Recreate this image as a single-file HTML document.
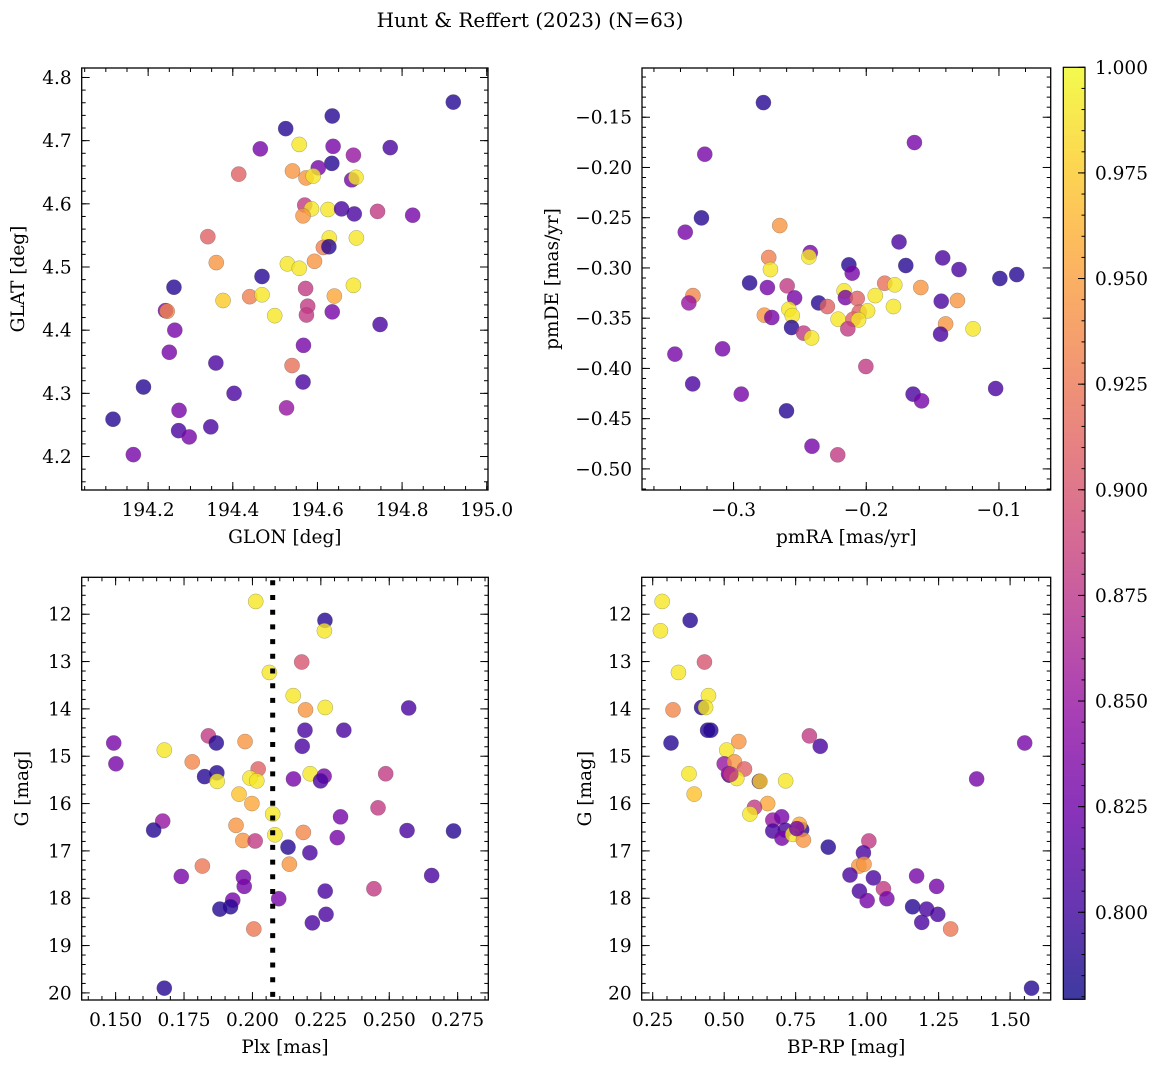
<!DOCTYPE html>
<html><head><meta charset="utf-8">
<style>
html,body{margin:0;padding:0;background:#fff;}
svg{display:block;font-family:"DejaVu Serif","Liberation Serif",serif;}
</style></head>
<body>
<svg id="fig" width="1160" height="1067" viewBox="0 0 1160 1067" xmlns="http://www.w3.org/2000/svg">
<defs>
<linearGradient id="cbgrad" x1="0" y1="1" x2="0" y2="0">
<stop offset="0" stop-color="#0d0887"/><stop offset="0.1" stop-color="#41049d"/><stop offset="0.2" stop-color="#6a00a8"/><stop offset="0.3" stop-color="#8f0da4"/><stop offset="0.4" stop-color="#b12a90"/><stop offset="0.5" stop-color="#cc4778"/><stop offset="0.6" stop-color="#e16462"/><stop offset="0.7" stop-color="#f2844b"/><stop offset="0.8" stop-color="#fca636"/><stop offset="0.9" stop-color="#fcce25"/><stop offset="1" stop-color="#f0f921"/>
</linearGradient>
</defs>
<text x="530" y="27" font-size="20" text-anchor="middle">Hunt &amp; Reffert (2023) (N=63)</text>
</svg>
<script>
// ---- data ----
const tlGlon=[194.921,194.635,194.525,194.557,194.465,194.637,194.772,194.685,194.634,194.602,194.414,194.541,194.573,194.590,194.681,194.691,194.570,194.586,194.566,194.625,194.657,194.687,194.742,194.825,194.341,194.628,194.692,194.614,194.627,194.361,194.529,194.557,194.593,194.469,194.261,194.572,194.685,194.377,194.440,194.469,194.640,194.577,194.574,194.499,194.635,194.241,194.245,194.748,194.263,194.567,194.250,194.360,194.540,194.189,194.566,194.403,194.527,194.273,194.117,194.272,194.348,194.297,194.165];
const tlGlat=[4.761,4.739,4.719,4.694,4.687,4.691,4.689,4.677,4.664,4.657,4.647,4.652,4.641,4.644,4.638,4.642,4.598,4.592,4.581,4.591,4.592,4.584,4.588,4.582,4.548,4.546,4.546,4.531,4.532,4.507,4.505,4.498,4.509,4.485,4.468,4.466,4.471,4.447,4.453,4.456,4.454,4.438,4.424,4.423,4.429,4.431,4.430,4.409,4.400,4.376,4.365,4.348,4.344,4.310,4.318,4.300,4.277,4.273,4.259,4.241,4.247,4.231,4.203];
const tlProb=[0.79,0.79,0.79,0.99,0.83,0.83,0.805,0.85,0.79,0.83,0.91,0.945,0.945,0.99,0.83,0.99,0.88,0.99,0.945,0.99,0.805,0.805,0.88,0.83,0.91,0.99,0.99,0.93,0.79,0.945,0.99,0.99,0.945,0.79,0.79,0.88,0.99,0.975,0.93,0.99,0.955,0.88,0.88,0.99,0.83,0.83,0.935,0.805,0.83,0.83,0.83,0.805,0.92,0.79,0.805,0.805,0.85,0.83,0.79,0.805,0.805,0.83,0.83];
const trPmra=[-0.2775,-0.1637,-0.3217,-0.3242,-0.3364,-0.2652,-0.1753,-0.2422,-0.2432,-0.2735,-0.1424,-0.2131,-0.1702,-0.2722,-0.2106,-0.1301,-0.0866,-0.0993,-0.2879,-0.2745,-0.2596,-0.1861,-0.1785,-0.1589,-0.3306,-0.3337,-0.2540,-0.2167,-0.2157,-0.2068,-0.1932,-0.2359,-0.2293,-0.1435,-0.1313,-0.1795,-0.2583,-0.2053,-0.1990,-0.2768,-0.2712,-0.2558,-0.2212,-0.2099,-0.2058,-0.2563,-0.2139,-0.1402,-0.1440,-0.1195,-0.2472,-0.2412,-0.3442,-0.3083,-0.2003,-0.3308,-0.1025,-0.2942,-0.1647,-0.1583,-0.2601,-0.2409,-0.2215];
const trPmde=[-0.1354,-0.1752,-0.1868,-0.2502,-0.2644,-0.2578,-0.2741,-0.2847,-0.2890,-0.2896,-0.2900,-0.2969,-0.2976,-0.3016,-0.3052,-0.3016,-0.3066,-0.3105,-0.3149,-0.3195,-0.3178,-0.3152,-0.3168,-0.3195,-0.3275,-0.3348,-0.3298,-0.3228,-0.3295,-0.3304,-0.3275,-0.3348,-0.3384,-0.3331,-0.3324,-0.3384,-0.3411,-0.3440,-0.3427,-0.3470,-0.3493,-0.3474,-0.3510,-0.3510,-0.3517,-0.3593,-0.3606,-0.3557,-0.3659,-0.3606,-0.3649,-0.3696,-0.3858,-0.3805,-0.3981,-0.4154,-0.4200,-0.4256,-0.4256,-0.4323,-0.4422,-0.4774,-0.4860];
const trProb=[0.79,0.83,0.83,0.79,0.83,0.945,0.805,0.83,0.99,0.93,0.805,0.79,0.79,0.99,0.83,0.805,0.79,0.79,0.79,0.83,0.88,0.92,0.99,0.945,0.935,0.85,0.83,0.99,0.83,0.91,0.99,0.79,0.91,0.805,0.945,0.99,0.99,0.91,0.99,0.945,0.83,0.99,0.99,0.91,0.99,0.79,0.88,0.945,0.805,0.99,0.88,0.99,0.83,0.83,0.88,0.805,0.805,0.83,0.805,0.83,0.79,0.83,0.88];
const blPlx=[0.2012,0.2265,0.2263,0.2180,0.2062,0.2149,0.2194,0.2266,0.2571,0.2192,0.2334,0.1493,0.1839,0.1868,0.1973,0.2182,0.1678,0.1501,0.1780,0.2021,0.1870,0.1825,0.1871,0.1991,0.2016,0.2150,0.2211,0.2262,0.2249,0.2487,0.1951,0.1998,0.2459,0.2074,0.2322,0.1672,0.1639,0.1940,0.2186,0.2082,0.2565,0.2735,0.1965,0.2010,0.2310,0.2130,0.2210,0.2135,0.1817,0.1740,0.1967,0.1970,0.2655,0.2444,0.2266,0.2096,0.1928,0.1920,0.1881,0.2269,0.2219,0.2005,0.1678];
const blG=[11.73,12.13,12.35,13.01,13.23,13.72,14.02,13.97,13.98,14.45,14.45,14.72,14.57,14.72,14.69,14.79,14.87,15.16,15.12,15.27,15.35,15.43,15.53,15.46,15.52,15.48,15.37,15.42,15.52,15.37,15.80,16.00,16.09,16.22,16.28,16.37,16.56,16.46,16.61,16.66,16.57,16.58,16.78,16.79,16.72,16.92,17.04,17.28,17.32,17.54,17.56,17.75,17.52,17.80,17.85,18.01,18.04,18.18,18.23,18.34,18.52,18.65,19.90];
const blProb=[0.99,0.79,0.99,0.9,0.99,0.99,0.945,0.99,0.805,0.805,0.805,0.83,0.88,0.79,0.945,0.805,0.99,0.83,0.935,0.91,0.79,0.79,0.99,0.99,0.99,0.83,0.99,0.83,0.805,0.88,0.97,0.955,0.88,0.99,0.83,0.85,0.79,0.945,0.935,0.99,0.805,0.79,0.945,0.88,0.83,0.79,0.805,0.945,0.925,0.83,0.83,0.83,0.805,0.88,0.805,0.83,0.83,0.79,0.79,0.805,0.805,0.925,0.79];
const brBprp=[0.283,0.381,0.277,0.431,0.340,0.445,0.321,0.421,0.435,0.442,0.453,0.314,0.798,0.551,0.836,1.551,0.509,0.500,0.536,0.571,0.518,0.515,0.544,0.377,0.623,0.625,0.715,1.383,0.395,0.652,0.606,0.590,0.670,0.701,0.670,0.713,0.771,0.763,0.702,0.740,0.777,0.864,1.006,0.987,0.971,0.989,0.940,1.022,1.173,1.243,0.973,1.057,1.000,1.069,1.159,1.208,1.247,1.191,1.292,1.575,0.523,0.754];
const brG=[11.73,12.13,12.35,13.01,13.23,13.72,14.02,13.97,13.97,14.45,14.45,14.72,14.57,14.69,14.79,14.72,14.87,15.16,15.12,15.27,15.40,15.37,15.47,15.37,15.53,15.53,15.52,15.48,15.80,16.00,16.08,16.22,16.35,16.28,16.58,16.56,16.55,16.44,16.73,16.65,16.77,16.92,16.79,17.04,17.32,17.28,17.51,17.57,17.53,17.75,17.85,17.80,18.05,18.01,18.18,18.23,18.34,18.51,18.65,19.90,15.38,16.53];
const brProb=[0.99,0.79,0.99,0.9,0.99,0.99,0.935,0.79,0.99,0.79,0.79,0.79,0.88,0.945,0.805,0.83,0.99,0.85,0.945,0.91,0.79,0.85,0.99,0.99,0.79,0.975,0.99,0.83,0.97,0.955,0.88,0.99,0.85,0.83,0.805,0.805,0.79,0.955,0.83,0.99,0.945,0.79,0.88,0.805,0.945,0.945,0.805,0.805,0.83,0.83,0.805,0.88,0.83,0.83,0.79,0.805,0.805,0.805,0.925,0.79,0.88,0.83];
const cbTicks=[0.800,0.825,0.850,0.875,0.900,0.925,0.950,0.975,1.000];
const plxLine=[0.2074];
// ---- rendering ----
const NS="http://www.w3.org/2000/svg";
const svg=document.getElementById('fig');
const VMIN=0.7794,VMAX=1.0;
const stops=["#0d0887","#41049d","#6a00a8","#8f0da4","#b12a90","#cc4778","#e16462","#f2844b","#fca636","#fcce25","#f0f921"];
function hx(h){return [parseInt(h.slice(1,3),16),parseInt(h.slice(3,5),16),parseInt(h.slice(5,7),16)];}
function cmap(v){let t=(v-VMIN)/(VMAX-VMIN);t=Math.max(0,Math.min(1,t));const s=t*10;const i=Math.min(9,Math.floor(s));const f=s-i;const a=hx(stops[i]),b=hx(stops[i+1]);return 'rgb('+a.map((c,k)=>Math.round(c+(b[k]-c)*f)).join(',')+')';}
function el(tag,attrs,parent){const e=document.createElementNS(NS,tag);for(const k in attrs)e.setAttribute(k,attrs[k]);(parent||svg).appendChild(e);return e;}
function rng(a,b,s){const out=[];const n0=Math.ceil(a/s-1e-9),n1=Math.floor(b/s+1e-9);for(let n=n0;n<=n1;n++)out.push(n*s);return out;}
function fmt(v,d){const s=Math.abs(v).toFixed(d);return (v<-1e-12?'\u2212':'')+s;}
const FS=18.5;
function panel(name,p){
  const g=el('g',{});
  
  
  const X=v=>p.px[0]+(v-p.xr[0])/(p.xr[1]-p.xr[0])*(p.px[1]-p.px[0]);
  const Y=v=>p.py[0]+(v-p.yr[0])/(p.yr[1]-p.yr[0])*(p.py[1]-p.py[0]);
  const L=p.px[0],R=p.px[1],T=Math.min(p.py[0],p.py[1]),B=Math.max(p.py[0],p.py[1]);
  // points
  for(let i=0;i<p.xs.length;i++){
    const c=el('circle',{cx:X(p.xs[i]),cy:Y(p.ys[i]),r:7.6,fill:cmap(p.cs[i]),'fill-opacity':0.8,stroke:'#555','stroke-opacity':0.5,'stroke-width':0.5},g);
    
    
  }
  if(p.vline){for(const v of p.vline){const ln=el('line',{x1:X(v),x2:X(v),y1:T+3,y2:B,stroke:'#000','stroke-width':5,'stroke-dasharray':'5 9.7'},g);
    
    }}
  // ticks
  const tk=el('g',{stroke:'#000','stroke-width':1},g);
  for(const v of rng(p.xr[0],p.xr[1],p.xmin)){const x=X(v);el('line',{x1:x,x2:x,y1:B,y2:B-4},tk);el('line',{x1:x,x2:x,y1:T,y2:T+4},tk);}
  for(const v of rng(p.yr[0],p.yr[1],p.ymin)){const y=Y(v);el('line',{x1:L,x2:L+4,y1:y,y2:y},tk);el('line',{x1:R,x2:R-4,y1:y,y2:y},tk);}
  for(const v of rng(p.xr[0],p.xr[1],p.xmaj)){const x=X(v);el('line',{x1:x,x2:x,y1:B,y2:B-8},tk);el('line',{x1:x,x2:x,y1:T,y2:T+8},tk);
    const t=el('text',{x:x,y:B+26,'font-size':FS,'text-anchor':'middle'},g);t.textContent=fmt(v,p.xd);
    
    }
  for(const v of rng(p.yr[0],p.yr[1],p.ymaj)){const y=Y(v);el('line',{x1:L,x2:L+8,y1:y,y2:y},tk);el('line',{x1:R,x2:R-8,y1:y,y2:y},tk);
    const t=el('text',{x:L-10,y:y+6.5,'font-size':FS,'text-anchor':'end'},g);t.textContent=fmt(v,p.yd);
    
    }
  const fr=el('rect',{x:L,y:T,width:R-L,height:B-T,fill:'none',stroke:'#000','stroke-width':1.3},g);
  
  
  const xl=el('text',{x:(L+R)/2,y:B+53,'font-size':FS,'text-anchor':'middle'},g);xl.textContent=p.xlab;
  
  
  const yl=el('text',{x:0,y:0,'font-size':FS,'text-anchor':'middle',transform:'translate('+p.ylx+','+((T+B)/2)+') rotate(-90)'},g);yl.textContent=p.ylab;
  
  
}
panel('glon-glat',{xs:tlGlon,ys:tlGlat,cs:tlProb,xr:[194.043,195.003],px:[81.7,488],yr:[4.147,4.815],py:[490,68],xmaj:0.2,xmin:0.05,ymaj:0.1,ymin:0.02,xd:1,yd:1,xlab:'GLON [deg]',ylab:'GLAT [deg]',ylx:24});
panel('pmra-pmde',{xs:trPmra,ys:trPmde,cs:trProb,xr:[-0.369,-0.061],px:[642,1050.7],yr:[-0.521,-0.101],py:[490,68],xmaj:0.1,xmin:0.02,ymaj:0.05,ymin:0.01,xd:1,yd:2,xlab:'pmRA [mas/yr]',ylab:'pmDE [mas/yr]',ylx:558});
panel('plx-g',{xs:blPlx,ys:blG,cs:blProb,xr:[0.1376,0.2862],px:[81.7,488.3],yr:[11.22,20.15],py:[577.3,1000],xmaj:0.025,xmin:0.005,ymaj:1,ymin:0.2,xd:3,yd:0,xlab:'Plx [mas]',ylab:'G [mag]',ylx:28,vline:plxLine});
panel('bprp-g',{xs:brBprp,ys:brG,cs:brProb,xr:[0.2115,1.642],px:[641.7,1050.7],yr:[11.22,20.15],py:[577.3,1000],xmaj:0.25,xmin:0.05,ymaj:1,ymin:0.2,xd:2,yd:0,xlab:'BP-RP [mag]',ylab:'G [mag]',ylx:591});
// colorbar
const cb=el('g',{});


const CT=67.3,CB=999.3,CL=1063.3,CR=1085;
el('rect',{x:CL,y:CT,width:CR-CL,height:CB-CT,fill:'url(#cbgrad)','fill-opacity':0.8},cb);
const CY=v=>CB-(v-VMIN)/(VMAX-VMIN)*(CB-CT);
for(const v of rng(VMIN,VMAX,0.005)){const y=CY(v);el('line',{x1:CR,x2:CR-3.5,y1:y,y2:y,stroke:'#000','stroke-width':1},cb);}
for(const v of cbTicks){const y=CY(v);el('line',{x1:CR,x2:CR-7,y1:y,y2:y,stroke:'#000','stroke-width':1},cb);
  const t=el('text',{x:1095,y:y+6.5,'font-size':FS},cb);t.textContent=v.toFixed(3);
  
  }
el('rect',{x:CL,y:CT,width:CR-CL,height:CB-CT,fill:'none',stroke:'#000','stroke-width':1.2},cb);
</script>
</body></html>
